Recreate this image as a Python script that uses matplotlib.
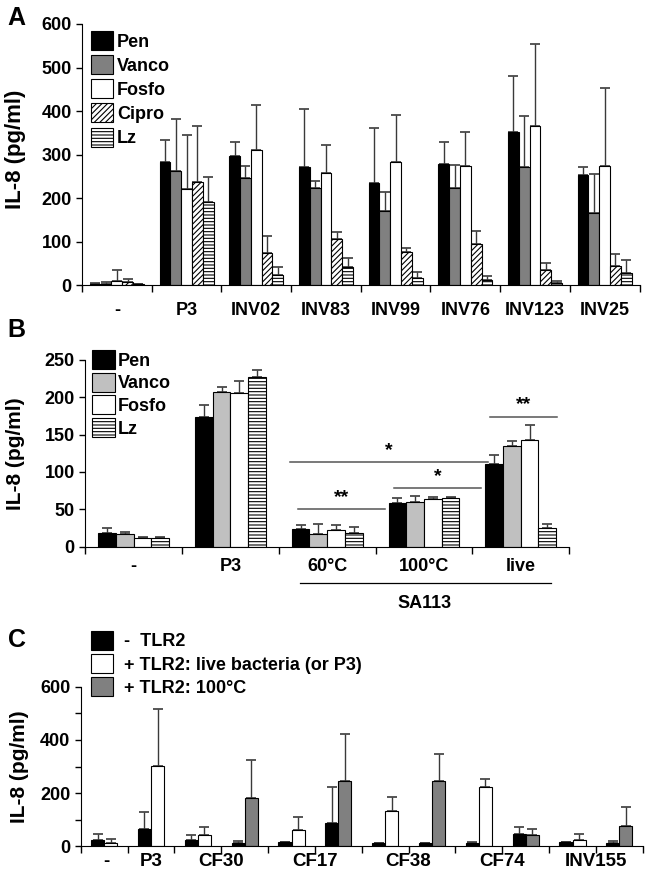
import numpy as np
import matplotlib
matplotlib.use('Agg')
import matplotlib.pyplot as plt
from matplotlib.patches import Patch
from matplotlib.ticker import FixedLocator, NullFormatter, FixedFormatter, MultipleLocator

plt.rcParams['font.family'] = ['Liberation Sans Narrow', 'Liberation Sans', 'DejaVu Sans']
plt.rcParams['font.weight'] = 'bold'
plt.rcParams['hatch.linewidth'] = 0.8

# ---- panel A data ----
A_groups = ['-', 'P3', 'INV02', 'INV83', 'INV99', 'INV76', 'INV123', 'INV25']
A_names = ['Pen', 'Vanco', 'Fosfo', 'Cipro', 'Lz']
A_pen = [2, 283, 296, 271, 234, 279, 352, 253]
A_pen_err = [4, 50, 32, 134, 126, 51, 129, 18]
A_vanco = [3, 262, 246, 223, 171, 223, 271, 165]
A_vanco_err = [5, 120, 27, 16, 44, 52, 117, 90]
A_fosfo = [9, 222, 311, 257, 283, 273, 365, 273]
A_fosfo_err = [25, 123, 103, 65, 109, 79, 190, 180]
A_cipro = [8, 238, 73, 106, 76, 94, 36, 45]
A_cipro_err = [7, 127, 39, 16, 9, 31, 16, 27]
A_lz = [2, 192, 23, 41, 17, 13, 5, 28]
A_lz_err = [0, 56, 20, 22, 14, 9, 5, 31]

# ---- panel B data ----
B_groups = ['-', 'P3', '60°C', '100°C', 'live']
B_names = ['Pen', 'Vanco', 'Fosfo', 'Lz']
B_pen = [19, 174, 24, 59, 110]
B_pen_err = [6, 16, 5, 6, 12]
B_vanco = [17, 207, 17, 60, 135]
B_vanco_err = [3, 6, 14, 8, 7]
B_fosfo = [12, 206, 22, 64, 143]
B_fosfo_err = [1, 15, 7, 2, 20]
B_lz = [12, 227, 19, 65, 25]
B_lz_err = [1, 9, 7, 1, 6]
# significance bars: x0, x1, y, label
B_sig = [(2.2, 3.1, 50, '**'), (3.19, 4.09, 79, '*'),
         (2.12, 4.16, 113, '*'), (4.18, 4.87, 174, '**')]

# ---- panel C data ----
C_labels = ['-', 'P3', 'CF30', 'CF17', 'CF38', 'CF74', 'INV155']
C_label_pos = [0.55, 1.5, 3, 5, 7, 9, 11]
C_names = ['-  TLR2', '+ TLR2: live bacteria (or P3)', '+ TLR2: 100°C']
C_minus = [21, 66, 21, 13, 14, 87, 10, 10, 10, 44, 14, 10]
C_minus_err = [23, 64, 19, 6, 2, 137, 2, 2, 5, 28, 2, 9]
C_plus = [11, 302, 40, 183, 59, 246, 133, 246, 223, 40, 24, 76]
C_plus_err = [16, 214, 32, 141, 49, 177, 53, 103, 28, 25, 20, 71]
C_plus_kind = ['live', 'live', 'live', 'heat', 'live', 'heat',
               'live', 'heat', 'live', 'heat', 'live', 'heat']

ecol = '#3a3a3a'


def bars(ax, x, vals, errs, color, hatch=None):
    ax.bar(x, vals, width=w, color=color, edgecolor='black', linewidth=0.8,
           hatch=hatch, zorder=2)
    errs = np.array(errs)
    ax.errorbar(x, vals, yerr=[np.zeros_like(errs), errs], fmt='none',
                ecolor=ecol, elinewidth=1, capsize=3.5, capthick=1.2, zorder=1)


def style(ax, nslots, ymax, ystep, label_pos, labels, pad, fs=13):
    ax.spines['top'].set_visible(False)
    ax.spines['right'].set_visible(False)
    ax.set_xlim(0, nslots)
    ax.set_ylim(0, ymax)
    ax.xaxis.remove_overlapping_locs = False
    ax.xaxis.set_major_locator(FixedLocator(np.arange(nslots + 1)))
    ax.xaxis.set_major_formatter(NullFormatter())
    ax.xaxis.set_minor_locator(FixedLocator(label_pos))
    ax.xaxis.set_minor_formatter(FixedFormatter(labels))
    ax.tick_params(axis='x', which='major', direction='out', length=5, width=1)
    ax.tick_params(axis='x', which='minor', length=0, pad=pad, labelsize=fs)
    ax.yaxis.set_major_locator(MultipleLocator(ystep))
    ax.tick_params(axis='y', direction='out', length=4, width=1, labelsize=13)
    for lab in ax.get_xticklabels(minor=True) + ax.get_yticklabels():
        lab.set_fontweight('bold')


fig = plt.figure(figsize=(6.46, 8.75), dpi=100)

# ---------- A ----------
axA = fig.add_axes([0.127, 0.674, 0.863, 0.2986])
xA = np.arange(len(A_groups)) + 0.5
w = 0.155
A_styles = [('black', None), ('#808080', None), ('white', None),
            ('white', '//////'), ('white', '-----')]
A_vals = [A_pen, A_vanco, A_fosfo, A_cipro, A_lz]
A_errs = [A_pen_err, A_vanco_err, A_fosfo_err, A_cipro_err, A_lz_err]
for i in range(5):
    bars(axA, xA + (i - 2) * w, A_vals[i], A_errs[i], A_styles[i][0], A_styles[i][1])
style(axA, len(A_groups), 600, 100, xA, A_groups, 12)
axA.set_ylabel('IL-8 (pg/ml)', fontsize=16, fontweight='bold')
axA.yaxis.set_label_coords(-0.1, 0.52)
hA = [Patch(facecolor=c, edgecolor='black', hatch=h, linewidth=0.8) for c, h in A_styles]
axA.legend(hA, A_names, loc='upper left', bbox_to_anchor=(91 / 646, 1 - 31 / 875),
           bbox_transform=fig.transFigure, frameon=False, borderpad=0, borderaxespad=0,
           handlelength=1.2, handleheight=1.25, labelspacing=0.25, handletextpad=0.25,
           prop={'size': 13, 'weight': 'bold'})

# ---------- B ----------
axB = fig.add_axes([0.132, 0.375, 0.749, 0.214])
xB = np.arange(len(B_groups)) + 0.5
w = 0.183
B_styles = [('black', None), ('#c0c0c0', None), ('white', None), ('white', '-----')]
B_vals = [B_pen, B_vanco, B_fosfo, B_lz]
B_errs = [B_pen_err, B_vanco_err, B_fosfo_err, B_lz_err]
for i in range(4):
    bars(axB, xB + (i - 1.5) * w, B_vals[i], B_errs[i], B_styles[i][0], B_styles[i][1])
style(axB, len(B_groups), 250, 50, xB, B_groups, 8)
axB.set_ylabel('IL-8 (pg/ml)', fontsize=15, fontweight='bold')
axB.yaxis.set_label_coords(-0.125, 0.5)
for x0, x1, y, t in B_sig:
    axB.plot([x0, x1], [y, y], color='#555555', lw=1.1, zorder=3)
    axB.text((x0 + x1) / 2, y + 4, t, ha='center', va='bottom', fontsize=14,
             fontweight='bold')
trB = axB.get_xaxis_transform()
axB.plot([2.22, 4.81], [-0.193, -0.193], color='black', lw=0.9, transform=trB,
         clip_on=False)
axB.text(3.51, -0.30, 'SA113', ha='center', va='center', fontsize=13,
         fontweight='bold', transform=trB)
hB = [Patch(facecolor=c, edgecolor='black', hatch=h, linewidth=0.8) for c, h in B_styles]
axB.legend(hB, B_names, loc='upper left', bbox_to_anchor=(92 / 646, 1 - 350 / 875),
           bbox_transform=fig.transFigure, frameon=False, borderpad=0, borderaxespad=0,
           handlelength=1.25, handleheight=1.25, labelspacing=0.17, handletextpad=0.2,
           prop={'size': 13, 'weight': 'bold'})

# ---------- C ----------
axC = fig.add_axes([0.125, 0.0331, 0.87, 0.1818])
xC = np.arange(len(C_minus)) + 0.5
w = 0.28
plus_col = ['white' if k == 'live' else '#808080' for k in C_plus_kind]
bars(axC, xC - w / 2, C_minus, C_minus_err, 'black')
bars(axC, xC + w / 2, C_plus, C_plus_err, plus_col)
style(axC, len(C_minus), 600, 200, C_label_pos, C_labels, 5, fs=13.5)
axC.yaxis.set_minor_locator(MultipleLocator(100))
axC.tick_params(axis='y', which='minor', direction='out', length=4, width=1)
axC.set_ylabel('IL-8 (pg/ml)', fontsize=15, fontweight='bold')
axC.yaxis.set_label_coords(-0.092, 0.5)
hC = [Patch(facecolor=c, edgecolor='black', linewidth=0.8)
      for c in ['black', 'white', '#808080']]
axC.legend(hC, C_names, loc='upper left', bbox_to_anchor=(91 / 646, 1 - 631 / 875),
           bbox_transform=fig.transFigure, frameon=False, borderpad=0, borderaxespad=0,
           handlelength=1.22, handleheight=1.22, labelspacing=0.2, handletextpad=0.6,
           prop={'size': 13, 'weight': 'bold'})

# panel letters
for t, y in [('A', 1 - 18 / 875), ('B', 1 - 330 / 875), ('C', 1 - 640 / 875)]:
    fig.text(0.012, y, t, fontsize=18, fontweight='bold', va='center')

fig.savefig('out.png', dpi=100)
